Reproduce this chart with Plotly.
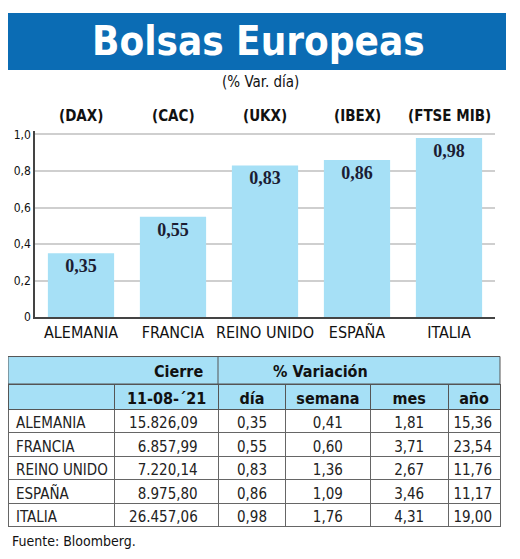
import plotly.graph_objects as go

# datos
paises = ["ALEMANIA", "FRANCIA", "REINO UNIDO", "ESPAÑA", "ITALIA"]
indices = ["(DAX)", "(CAC)", "(UKX)", "(IBEX)", "(FTSE MIB)"]
var_dia = [0.35, 0.55, 0.83, 0.86, 0.98]
cierre = [15826.09, 6857.99, 7220.14, 8975.80, 26457.06]
var_semana = [0.41, 0.60, 1.36, 1.09, 1.76]
var_mes = [1.81, 3.71, 2.67, 3.46, 4.31]
var_anio = [15.36, 23.54, 11.76, 11.17, 19.00]
y_ticks = [0, 0.2, 0.4, 0.6, 0.8, 1.0]
y_ticktext = ["0", "0,2", "0,4", "0,6", "0,8", "1,0"]
cabecera_1 = ["Cierre", "% Variación"]
cabecera_2 = ["", "11-08-´21", "día", "semana", "mes", "año"]

BLUE = "#0b6cb4"
LIGHT = "#a6e0f6"
NARROW = "DejaVu Sans Condensed, Liberation Sans Narrow, Roboto, sans-serif"
NBSP = "\u00a0"
# the page body has an 8px margin, so the figure is drawn 8px in from the corner
OFF = 8
W, H = 520 - 2 * OFF, 559 - 2 * OFF


def fmt(v):
    s = "{:,.2f}".format(v)
    return s.replace(",", "X").replace(".", ",").replace("X", ".")


def px(x):
    return max(0, (x - OFF) / W)


def py(y):
    return 1 - (y - OFF) / H


fig = go.Figure()

fig.add_trace(go.Bar(
    x=paises, y=var_dia,
    marker_color=LIGHT, marker_line_width=0,
    texttemplate="%{y:.2f}", textposition="inside", insidetextanchor="end",
    textfont=dict(family="Liberation Serif, serif", size=18, color="#1b1d33", weight="bold"),
    textangle=0, hoverinfo="skip",
))

for p, idx in zip(paises, indices):
    fig.add_annotation(x=p, y=py(115), yref="paper", text="<b>" + idx + "</b>", showarrow=False,
                       font=dict(family=NARROW, size=15, color="#111"), yanchor="middle")

# tabla (el espacio final + \u200b mantiene la cifra de cierre separada del borde)
fig.add_trace(go.Table(
    domain=dict(x=[px(7), px(500)], y=[py(545), py(388)]),
    columnwidth=[107, 104, 67, 85, 78, 52],
    header=dict(values=cabecera_2,
                height=25, fill_color=LIGHT, line=dict(color="#555", width=1),
                font=dict(family=NARROW, size=16, color="#111", weight="bold"), align="center"),
    cells=dict(values=[[p.replace(" ", NBSP) for p in paises],
                       [fmt(v) + NBSP * 3 + "\u200b" for v in cierre],
                       [fmt(v) for v in var_dia],
                       [fmt(v) for v in var_semana],
                       [fmt(v) for v in var_mes],
                       [fmt(v) for v in var_anio]],
               height=23.5, fill_color="white", line=dict(color="#666", width=1),
               font=dict(family=NARROW, size=15, color="#222"),
               align=["left", "right", "center", "center", "center", "right"]),
))

# fila superior de cabecera
fig.add_shape(type="rect", xref="paper", yref="paper", x0=px(7), x1=px(500), y0=py(388), y1=py(360),
              fillcolor=LIGHT, line=dict(color="#555", width=1))
fig.add_shape(type="line", xref="paper", yref="paper", x0=px(218), x1=px(218), y0=py(388), y1=py(360),
              line=dict(color="#555", width=1))
for xc, t in zip([152, 370], cabecera_1):
    fig.add_annotation(x=px(xc), y=py(375), xref="paper", yref="paper", text="<b>" + t + "</b>",
                       showarrow=False, font=dict(family=NARROW, size=16, color="#111"), yanchor="middle")

# banda del título
fig.add_shape(type="rect", xref="paper", yref="paper", x0=px(5), x1=px(506), y0=py(68), y1=py(10),
              fillcolor=BLUE, line_width=0, layer="below")
fig.add_annotation(x=px(258), y=py(39), xref="paper", yref="paper", text="<b>Bolsas Europeas</b>",
                   showarrow=False, font=dict(family=NARROW, size=40, color="white"), yanchor="middle")
fig.add_annotation(x=px(260), y=py(80), xref="paper", yref="paper", text="(% Var. día)",
                   showarrow=False, font=dict(family=NARROW, size=15, color="#111"), yanchor="middle")
fig.add_annotation(x=px(10), y=py(548), xref="paper", yref="paper", text="Fuente: Bloomberg.",
                   showarrow=False, font=dict(family=NARROW, size=14, color="#111"),
                   xanchor="left", yanchor="middle")

fig.update_layout(
    width=W, height=H, margin=dict(l=0, r=0, t=0, b=0),
    paper_bgcolor="white", plot_bgcolor="white",
    separators=",.", showlegend=False, bargap=0.28,
    xaxis=dict(domain=[px(35), px(495)], showline=True, linecolor="#444", linewidth=1.5,
               ticks="", tickfont=dict(family=NARROW, size=16, color="#111"), fixedrange=True),
    yaxis=dict(domain=[py(320), py(130)], range=[0, 1.02], tickvals=y_ticks, ticktext=y_ticktext,
               showline=True, linecolor="#444", linewidth=1.5, showgrid=True, gridcolor="#cfcfcf",
               gridwidth=1.5, zeroline=False, ticks="",
               tickfont=dict(family=NARROW, size=12, color="#111"), fixedrange=True),
)

fig.write_html("out.html")
